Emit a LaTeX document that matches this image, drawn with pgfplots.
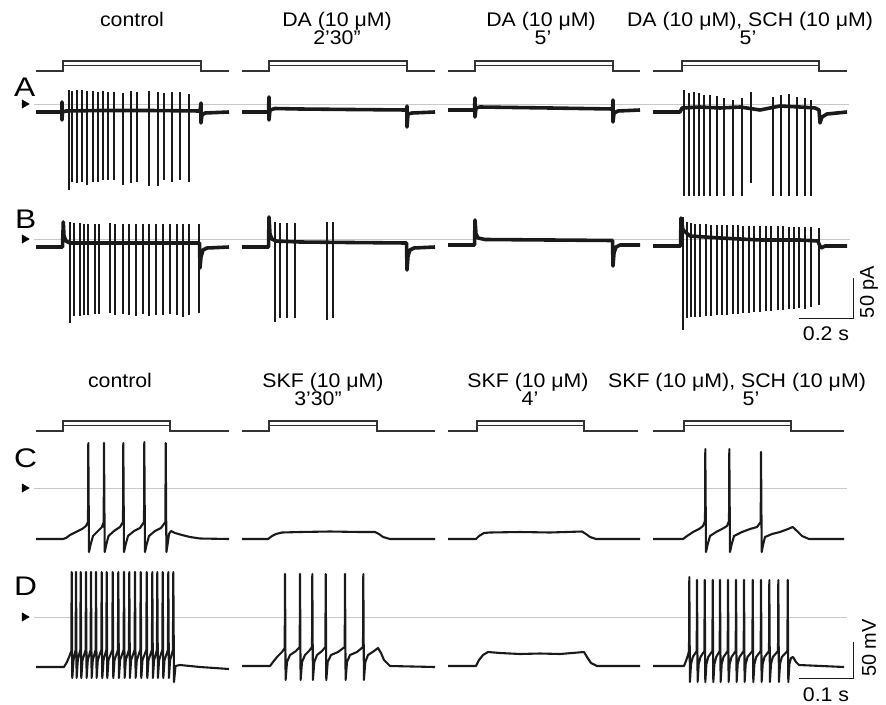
\documentclass[border=0pt]{standalone}
\usepackage{fontspec}
\setmainfont{Liberation Sans}
\usepackage{pgfplots}
\pgfplotsset{compat=1.18}
\usepackage{pgfplotstable}

\definecolor{trace}{HTML}{1A1A1A}
\definecolor{refline}{HTML}{C8C8C8}
\definecolor{stim}{HTML}{333333}

% spikes of the voltage-clamp rows: x, upper tip, lower tip (picture units)
\pgfplotstableread{
x top bot
69 90 190
72.3 91 182
77 90 183
81.7 90 182
87.3 91 185
92.7 91 182
97.7 92 182
103.3 91 180
108.3 92 180
113.7 92 180
122.7 93 185
131 91 183
136.7 92 182
149 91 186
157.7 92 186
163.7 93 180
171.7 92 182
180 92 180
189 94 182
684 90 196
688.7 93 196
693.7 92 196
698.7 93 196
704 95 196
710.3 95 196
717 96 196
723.7 98 196
733.3 100 196
741.7 98 196
751.3 92 183
773 97 196
781.3 95 196
788.7 94 196
797.3 97 196
804.7 98 196
811.3 100 196
}\spikesA

\pgfplotstableread{
x top bot
70 222 323
74 223 316
80 223 316
84.3 224 315
88.3 224 315
95 224 314
99.3 224 314
110 223 313
115 224 315
123.3 224 314
129.3 224 315
136 224 316
142.7 224 314
149.3 224 316
156 224 315
163.3 224 315
170 224 314
176.7 224 315
183.3 224 317
189.3 224 315
199.3 224 313
275 222 322
280 223 318
287.3 223 318
295 223 318
327.3 222 320
333.3 222 318
682.7 217 330
686.7 222 318
691 223 317
695.3 224 317
700 224 317
706 224 316
711 225 316
716.7 225 315
722 225 315
727 225 315
732.7 225 314
737.7 225 314
742.7 226 313
748.7 226 313
754.3 226 312
760 226 312
766 226 311
771 226 311
777.7 226 310
783.3 226 310
788.7 227 309
794.3 227 309
799.3 227 308
805.3 227 309
811 227 307
818.7 228 305
}\spikesB

\begin{document}
\begin{tikzpicture}[
    ttl/.style={font=\fontsize{19.8}{23}\selectfont, xscale=1.08, anchor=base},
    plet/.style={font=\fontsize{27}{32}\selectfont, xscale=1.18, anchor=base west},
    vlbl/.style={font=\fontsize{20}{24}\selectfont, rotate=90, anchor=center},
]
\begin{axis}[
    width=886bp, height=705bp, scale only axis,
    xmin=0, xmax=886, ymin=0, ymax=705, y dir=reverse,
    hide axis, clip=false,
    stimline/.style={stim, line width=1.2pt},
    refl/.style={refline, line width=1pt},
    base/.style={trace, line width=3.6pt, line join=round},
    vm/.style={trace, line width=2.1pt, line join=round},
    spk/.style={draw=none, mark=none, error bars/.cd, y dir=plus, y explicit,
        error mark=none, error bar style={draw=trace, solid, line width=2.2pt}},
]
% keep the page the size of the whole figure
\path (rel axis cs:0,0) rectangle (rel axis cs:1,1);

% reference lines
\addplot[refl] coordinates {(34,104)(849,104)};
\addplot[refl] coordinates {(34,239)(850,239)};
\addplot[refl] coordinates {(34,488)(847,488)};
\addplot[refl] coordinates {(34,617)(847,617)};
\addplot[only marks, mark=triangle*, mark size=4.8pt, mark options={rotate=-90, fill=black, draw=black}]
    coordinates {(24.5,104)(24.5,239)(24.5,488)(24.5,617)};

% stimulus steps, upper half
\addplot[stimline] coordinates {(36,71)(63,71)(63,61)(201,61)(201,71)(229,71)};
\addplot[stimline] coordinates {(63,65.5)(201,65.5)};
\addplot[stimline] coordinates {(242,71)(269,71)(269,61)(407,61)(407,71)(435,71)};
\addplot[stimline] coordinates {(269,65.5)(407,65.5)};
\addplot[stimline] coordinates {(448,71)(475,71)(475,61)(613,61)(613,71)(640,71)};
\addplot[stimline] coordinates {(475,65.5)(613,65.5)};
\addplot[stimline] coordinates {(653,71)(682,71)(682,61)(819,61)(819,71)(847,71)};
\addplot[stimline] coordinates {(682,65.5)(819,65.5)};
% stimulus steps, lower half
\addplot[stimline] coordinates {(36,431)(63,431)(63,421)(170,421)(170,431)(229,431)};
\addplot[stimline] coordinates {(63,425.8)(170,425.8)};
\addplot[stimline] coordinates {(242,431)(269,431)(269,421)(377,421)(377,431)(435,431)};
\addplot[stimline] coordinates {(269,425.8)(377,425.8)};
\addplot[stimline] coordinates {(448,431)(477,431)(477,421)(584,421)(584,431)(638,431)};
\addplot[stimline] coordinates {(477,425.8)(584,425.8)};
\addplot[stimline] coordinates {(653,431)(684,431)(684,421)(791,421)(791,431)(844,431)};
\addplot[stimline] coordinates {(684,425.8)(791,425.8)};

% row A baselines
\addplot[base] coordinates {(36,112)(62,112)(62,102)(62,120)(62.5,112)(66,111)(100,110.5)(150,110.5)(200,111)(201,103)(201,123)(202,115)(205,113)(229,112)};
\addplot[base] coordinates {(242,112)(268.5,112)(269,97)(269,120)(270,110)(275,108.5)(300,109)(350,109.5)(406.5,110)(407,106)(407,127)(408,114)(412,113)(435,112)};
\addplot[base] coordinates {(448,110)(474.5,110)(475,98)(475,117)(476,108)(480,107)(550,108)(612.5,109)(613,100)(613,122)(614,113)(618,111)(640,110)};
\addplot[base] coordinates {(653,112)(680,112)(682,108)(700,107)(720,108)(740,107)(760,110)(780,106)(800,107)(815,108)(819,110)(820,123)(822,117)(827,114)(847,112)};
\addplot[spk] table[x=x, y=top, y error plus expr=\thisrow{bot}-\thisrow{top}] {\spikesA};

% row B baselines
\addplot[base] coordinates {(36,247)(62.5,247)(63.3,222)(64,236)(66,241)(70,243)(100,243)(150,243)(199.5,243)(200,268)(201,257)(203,250)(207,248)(229,247)};
\addplot[base] coordinates {(242,247)(268.5,247)(269,217)(270,234)(272,239)(276,241)(300,242)(350,242.5)(406.5,243)(407,270)(408,256)(410,250)(414,248)(435,247)};
\addplot[base] coordinates {(448,245)(474.5,245)(475,220)(476,234)(478,238)(485,239.5)(550,240)(612.5,240.5)(613,266)(614,253)(616,247)(620,245)(640,245)};
\addplot[base] coordinates {(653,246)(680.5,246)(681,218)(683,230)(690,236)(720,238)(760,240)(800,240)(818,241)(819,244)(821,248)(825,246)(847,246)};
\addplot[spk] table[x=x, y=top, y error plus expr=\thisrow{bot}-\thisrow{top}] {\spikesB};

% row C
\addplot[vm] coordinates {(36,539)(63,539)(66,538)(70,535)(76,532)(82,529)(86,526)(88,522)(88.3,443)(89,552)(90.5,545)(93,536)(98,531)(102,527)(103.7,522)(104,443)(104.7,552)(106.2,545)(108.5,536)(114,531)(120,527)(123,522)(123.3,443)(124,552)(125.5,545)(128,536)(134,531)(140,528)(144,522)(144.3,442)(145,552)(146.5,545)(149,536)(155,531)(161,528)(165.4,522)(165.7,443)(166.4,552)(167.5,545)(169,534)(171,531)(175,533)(182,535)(190,537)(200,538.5)(229,539)};
\addplot[vm] coordinates {(242,539)(268,539)(272,536)(276,534)(282,532.5)(300,532)(330,531.5)(360,532)(375,532)(379,534)(383,537)(390,539)(435,539)};
\addplot[vm] coordinates {(448,539)(476,539)(479,536)(484,533)(490,532.5)(520,532)(550,532.5)(582,531.5)(586,534)(590,537)(596,539)(640,539)};
\addplot[vm] coordinates {(653,539)(683,539)(687,536)(693,532)(699,529)(703,526)(705,521)(705.3,449)(706,552)(707.5,545)(710,536)(716,532)(722,529)(727,526)(729,521)(729.3,449)(730,552)(731.5,545)(734,536)(742,532)(750,529)(757,527)(760.7,522)(761,452)(761.7,552)(763,545)(765,537)(772,534)(780,532)(788,529)(792.7,527)(797,531)(802,536)(809,539)(844,539)};

% row D
\addplot[vm] coordinates {(36,667)(64,667)(67,662)(69.5,656)(71.3,651)
(71.7,572)(72.3,678)(73.5,660)(75.6,650)
(76,572)(76.6,678)(77.8,660)(80.3,650)
(80.7,572)(81.3,678)(82.5,660)(85.6,650)
(86,572)(86.6,678)(87.8,660)(90.6,650)
(91,572)(91.6,678)(92.8,660)(95.6,650)
(96,572)(96.6,678)(97.8,660)(101.3,650)
(101.7,572)(102.3,678)(103.5,660)(106.3,650)
(106.7,572)(107.3,678)(108.5,660)(112.3,650)
(112.7,572)(113.3,678)(114.5,660)(117.9,650)
(118.3,572)(118.9,678)(120.1,660)(123.6,650)
(124,572)(124.6,678)(125.8,660)(128.9,650)
(129.3,572)(129.9,678)(131.1,660)(134.6,650)
(135,572)(135.6,678)(136.8,660)(140.3,650)
(140.7,572)(141.3,678)(142.5,660)(146.3,650)
(146.7,572)(147.3,678)(148.5,660)(151.9,650)
(152.3,572)(152.9,678)(154.1,660)(156.9,650)
(157.3,572)(157.9,678)(159.1,660)(162.3,650)
(162.7,572)(163.3,678)(164.5,660)(167.9,650)
(168.3,572)(168.9,678)(170.1,660)(172.9,650)
(173.3,572)(174,682)(175.5,666)(180,665)(200,667)(229,669)};
\addplot[vm] coordinates {(242,666)(270,666)(273,662)(277,657)(282,652)(284.7,648)(285,574)(285.6,680)(287,662)(290,655)(296,651)(299.7,647)(300,574)(300.6,680)(302,662)(305,655)(309,651)(312,647)(312.3,574)(312.9,680)(314.3,662)(317,655)(322,651)(325.4,647)(325.7,574)(326.3,680)(327.7,662)(331,655)(338,652)(344.7,647)(345,574)(345.6,680)(347,662)(350,655)(357,652)(363,647)(363.3,574)(363.9,680)(365.3,662)(368,655)(374,651)(378,648)(381,653)(384,660)(390,666)(435,667)};
\addplot[vm] coordinates {(448,666)(476,666)(479,660)(483,655)(488,652)(500,653)(520,654)(540,653.5)(560,654)(584,652)(587,657)(591,663)(597,666)(640,666)};
\addplot[vm] coordinates {(653,666)(684,666)(686,661)(688,655)(689,651)
(689.3,577)(689.9,682)(691,664)(692.8,657)(696.7,651)
(697,580)(697.6,682)(698.7,664)(700.5,657)(704.4,651)
(704.7,580)(705.3,682)(706.4,664)(708.2,657)(712.4,651)
(712.7,580)(713.3,682)(714.4,664)(716.2,657)(719.7,651)
(720,580)(720.6,682)(721.7,664)(723.5,657)(727.7,651)
(728,580)(728.6,682)(729.7,664)(731.5,657)(735.7,651)
(736,580)(736.6,682)(737.7,664)(739.5,657)(743.7,651)
(744,580)(744.6,682)(745.7,664)(747.5,657)(752.4,651)
(752.7,580)(753.3,682)(754.4,664)(756.2,657)(760.7,651)
(761,580)(761.6,682)(762.7,664)(764.5,657)(769,651)
(769.3,580)(769.9,682)(771,664)(772.8,657)(778,651)
(778.3,580)(778.9,682)(780,664)(781.8,657)(787.4,651)
(787.7,580)(788.3,682)(789.4,664)(791,658)(793,657)(796,662)(799,665)(844,667)};

% scale bars
\addplot[trace, line width=1pt] coordinates {(799,318)(853,318)(853,278)};
\addplot[trace, line width=1pt] coordinates {(799,678)(853,678)(853,642)};

% titles
\node[ttl] at (axis cs:132,27) {control};
\node[ttl] at (axis cs:337,27) {DA (10 μM)};
\node[ttl] at (axis cs:337,45) {2’30”};
\node[ttl] at (axis cs:541,27) {DA (10 μM)};
\node[ttl] at (axis cs:543,45) {5’};
\node[ttl] at (axis cs:750,27) {DA (10 μM), SCH (10 μM)};
\node[ttl] at (axis cs:748,45) {5’};
\node[ttl] at (axis cs:120,387) {control};
\node[ttl] at (axis cs:323,387) {SKF (10 μM)};
\node[ttl] at (axis cs:318,405) {3’30”};
\node[ttl] at (axis cs:528,387) {SKF (10 μM)};
\node[ttl] at (axis cs:530,405) {4’};
\node[ttl] at (axis cs:737,387) {SKF (10 μM), SCH (10 μM)};
\node[ttl] at (axis cs:751,405) {5’};

\node[plet] at (axis cs:10,97) {A};
\node[plet] at (axis cs:11,228) {B};
\node[plet] at (axis cs:10,467) {C};
\node[plet] at (axis cs:10,595) {D};

\node[vlbl] at (axis cs:869,292) {50 pA};
\node[ttl] at (axis cs:826,340) {0.2 s};
\node[vlbl] at (axis cs:869,648) {50 mV};
\node[ttl] at (axis cs:826,701) {0.1 s};
\end{axis}
\end{tikzpicture}
\end{document}
